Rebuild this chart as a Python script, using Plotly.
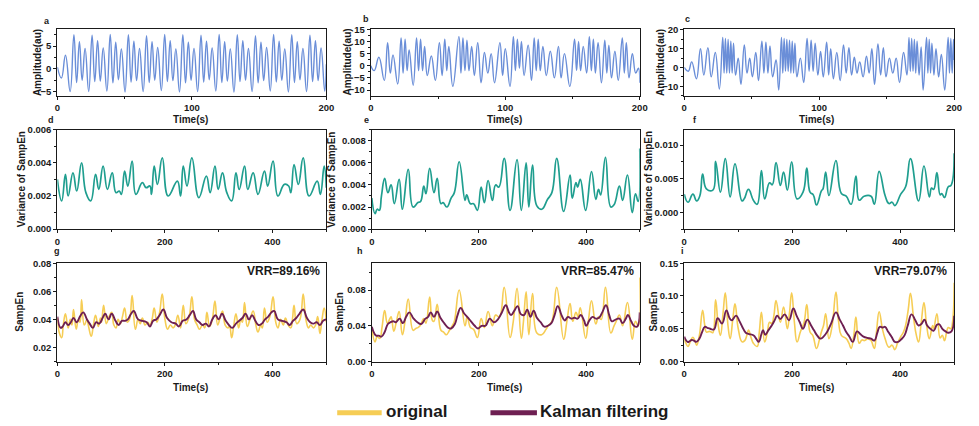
import plotly.graph_objects as go

# ---------------- Row 1: amplitude signals (time in s) ----------------
a_t = [0, 3, 6, 9.5,
       12.3, 14.3, 16.4, 18.4, 20.6, 23.3, 25.8, 27.8, 29.9, 31.9, 34.1, 36.8,
       39.3, 41.3, 43.4, 45.4, 47.6, 50.3, 52.8, 54.8, 56.9, 58.9, 61.1, 63.8,
       66.3, 68.3, 70.4, 72.4, 74.6, 77.3, 79.8, 81.8, 83.9, 85.9, 88.1, 90.8,
       93.3, 95.3, 97.4, 99.4, 101.6, 104.3, 106.8, 108.8, 110.9, 112.9, 115.1, 117.8,
       120.3, 122.3, 124.4, 126.4, 128.6, 131.3, 133.8, 135.8, 137.9, 139.9, 142.1, 144.8,
       147.3, 149.3, 151.4, 153.4, 155.6, 158.3, 160.8, 162.8, 164.9, 166.9, 169.1, 171.8,
       174.3, 176.3, 178.4, 180.4, 182.6, 185.3, 187.8, 189.8, 191.9, 193.9, 196.1, 198.8,
       200]
a_v = [0.4, -2, 3, -5,
       7.5, -3.0, 6.0, -2.5, 4.5, -5.0, 7.4, -2.8, 6.2, -2.7, 4.6, -4.9,
       7.6, -3.1, 5.9, -2.4, 4.4, -5.1, 7.5, -2.9, 6.1, -2.6, 4.5, -5.0,
       7.3, -3.0, 6.0, -2.5, 4.7, -4.8, 7.6, -2.8, 6.2, -2.6, 4.4, -5.1,
       7.5, -3.1, 5.9, -2.5, 4.5, -5.0, 7.4, -2.9, 6.1, -2.4, 4.6, -4.9,
       7.6, -3.0, 6.0, -2.7, 4.4, -5.1, 7.5, -2.8, 6.2, -2.5, 4.5, -5.0,
       7.3, -3.1, 5.9, -2.6, 4.7, -4.9, 7.6, -2.9, 6.1, -2.5, 4.4, -5.1,
       7.5, -3.0, 6.0, -2.4, 4.5, -5.0, 7.4, -2.8, 6.2, -2.6, 4.6, -4.9,
       1.0]

b_t = [0, 2.5, 6, 10, 12.5, 14.5, 16.5, 20, 22.5, 24, 25.5, 27, 28.5, 31.5, 34, 35.5,
       37, 38.5, 40, 42, 45, 48, 51, 53, 55, 56.5, 58, 61, 65.5, 67, 68.5, 70,
       71.5, 73, 75, 77, 79.5, 82, 84.5, 87, 89.5, 92, 96, 98, 100, 103.5, 106, 107.5,
       109, 110.5, 112, 114, 117, 119.5, 121.5, 123, 124.5, 126, 128, 130.5, 133.5, 136.5,
       139.5, 141.5, 144, 148, 151.5, 153, 154.5, 156, 158, 160.5, 162.5, 164, 165.5, 167,
       169, 171.5, 174, 175.5, 177, 179, 181.5, 184, 187, 188.5, 190, 192, 194.5, 197,
       199, 200]
b_v = [0, -2, 3.5, -6, 9.5, -3, 4.5, -7.5, 11.5, -3, 11, -2, 6.5, -8, 11.5, -2,
       11, -2, 8, -4, 4, -6, 9.5, -4, 11, -2, 8, -8.5, 12, -3, 11.5, -2,
       10.5, -2, 8, -4, 9.5, -7, 5.5, -3, 5, -7, 9.5, -4, 7, -8.5, 12, -2,
       11, -1, 10, -4, 8.5, -6, 11.5, -2, 11, -2, 8, -4, 6, -5,
       8, -5, 5, -8.5, 11, -2, 10, -2, 8, -3, 12, -2, 11, -3,
       9.5, -7, 10.5, -3, 8.5, -5, 6, -6, 11.5, -3, 9.5, -5, 5, -3,
       -1, -7]

c_t = [0, 3, 5.5, 9, 12, 14.5, 17.5, 20, 23, 26, 28.5, 29.5, 30.5, 31.5, 32.5, 33.5,
       34.5, 35.5, 36.5, 38, 40, 42, 44.5, 46.5, 48.5, 50.5, 53, 55, 57.5, 59, 60.5, 62,
       63.5, 65.5, 68, 70, 72, 73, 74, 75, 76, 77, 78, 79, 80, 81, 82, 83.5,
       86, 88.5, 91, 92.5, 94, 95.5, 97, 99, 101, 103, 105.5, 107, 108.5, 110.5,
       113, 115.5, 118, 120, 122, 124, 126, 128, 130, 132.5, 135, 137, 139, 141,
       143.5, 145.5, 147.5, 149.5, 152, 154.5, 157, 159.5, 162.5, 165, 166.5, 167.5, 168.5, 169.5,
       170.5, 171.5, 172.5, 174, 175.5, 177, 179.5, 180.5, 181.5, 182.5, 183.5, 185, 186.5, 188.5,
       190.5, 193, 195.5, 196.5, 197.5, 198.5, 199.5, 200]
c_v = [0, -2, 3, -6, 10, -4, 10.5, -5, 8, -11.5, 16, -3, 15.5, -3, 15, -3,
       14, -3, 13, -4, 5, -9, 12, -3, 5, -5, 8, -7, 14, -3, 13.5, -3,
       11.5, -5, 4, -12, 16, -3, 15.5, -2, 15, -2, 14.5, -3, 14, -3, 13, -5,
       5, -8, 15.5, -2, 14.5, -2, 13, -4, 8.5, -5, 13.5, -4, 10, -6,
       8, -7, 12, -3, 10.5, -4, 5.5, -3, 3, -5, 6, -3, 10, -9,
       12.5, -4, 10.5, -5, 5, -3, 5, -8, 8, -4, 16, -2, 15.5, -2,
       15, -3, 14, -4, 11, -12, 16, -3, 15, -3, 13, -4, 10, -5,
       7, -12, 16, -3, 15.5, -3, 15, 4]

# ---------------- Row 2: variance of SampEn ----------------
d_t = [0, 8, 15, 20, 29, 36, 45, 53, 62, 71, 77, 85, 93, 102, 109, 115, 119, 125, 131, 139,
       146, 158, 165, 172, 175, 180, 186, 195, 206, 223, 229, 234, 241, 250, 263, 277, 284,
       293, 299, 307, 315, 324, 332, 338, 348, 354, 364, 373, 385, 391, 401, 410, 422, 430,
       434, 440, 448, 457, 468, 483, 489, 496, 500]
d_v = [0.0030, 0.0017, 0.0033, 0.0020, 0.0034, 0.0023, 0.0040, 0.0022, 0.0017, 0.0033,
       0.0024, 0.0038, 0.0024, 0.0034, 0.0022, 0.0023, 0.0021, 0.0035, 0.0026, 0.0041,
       0.0021, 0.0028, 0.0025, 0.0026, 0.0021, 0.0038, 0.0027, 0.0043, 0.0020, 0.0029,
       0.0020, 0.0038, 0.0026, 0.0043, 0.0019, 0.0032, 0.0022, 0.0038, 0.0024, 0.0034,
       0.0022, 0.0017, 0.0034, 0.0024, 0.0038, 0.0024, 0.0034, 0.0021, 0.0035, 0.0026,
       0.0041, 0.0020, 0.0027, 0.0026, 0.0022, 0.0039, 0.0027, 0.0043, 0.0020, 0.0029,
       0.0021, 0.0038, 0.0025]

e_t = [0, 6, 10, 14, 18, 24, 30, 36, 42, 51, 57, 68, 77, 86, 91, 97, 101, 108, 116, 122,
       129, 133, 140, 148, 154, 163, 174, 177, 184, 190, 197, 204, 210, 217, 225, 231, 237,
       247, 258, 271, 279, 288, 293, 300, 308, 317, 328, 336, 345, 358, 370, 374, 381, 384,
       389, 399, 410, 418, 423, 427, 436, 446, 452, 462, 468, 477, 486, 492, 497, 500]
e_v = [0.0028, 0.0014, 0.0018, 0.0017, 0.0030, 0.0046, 0.0033, 0.0040, 0.0023, 0.0045,
       0.0018, 0.0054, 0.0020, 0.0024, 0.0025, 0.0039, 0.0032, 0.0055, 0.0033, 0.0046,
       0.0023, 0.0024, 0.0020, 0.0028, 0.0033, 0.0061, 0.0026, 0.0031, 0.0023, 0.0023,
       0.0017, 0.0038, 0.0024, 0.0044, 0.0026, 0.0040, 0.0038, 0.0064, 0.0017, 0.0063,
       0.0017, 0.0060, 0.0020, 0.0058, 0.0021, 0.0018, 0.0027, 0.0033, 0.0064, 0.0016,
       0.0049, 0.0028, 0.0042, 0.0038, 0.0045, 0.0017, 0.0052, 0.0027, 0.0036, 0.0031,
       0.0065, 0.0020, 0.0022, 0.0039, 0.0026, 0.0049, 0.0015, 0.0032, 0.0025, 0.0073]

f_t = [0, 7, 16, 23, 29, 34, 41, 53, 58, 67, 76, 85, 94, 107, 111, 119, 128, 135, 143, 149,
       158, 163, 170, 178, 184, 191, 199, 209, 220, 227, 233, 239, 245, 254, 257, 262, 268,
       281, 291, 300, 309, 318, 324, 333, 346, 352, 361, 372, 379, 385, 390, 401, 410, 419,
       434, 444, 454, 458, 462, 468, 474, 477, 482, 489, 494, 500]
f_v = [0.0027, 0.0015, 0.0027, 0.0017, 0.0025, 0.0057, 0.0035, 0.0033, 0.0076, 0.0030,
       0.0080, 0.0023, 0.0072, 0.0017, 0.0020, 0.0034, 0.0018, 0.0012, 0.0062, 0.0020,
       0.0044, 0.0041, 0.0074, 0.0040, 0.0060, 0.0033, 0.0075, 0.0020, 0.0030, 0.0066,
       0.0030, 0.0026, 0.0011, 0.0032, 0.0035, 0.0060, 0.0025, 0.0077, 0.0028, 0.0024,
       0.0012, 0.0054, 0.0018, 0.0024, 0.0024, 0.0012, 0.0061, 0.0025, 0.0013, 0.0015,
       0.0010, 0.0027, 0.0038, 0.0080, 0.0017, 0.0069, 0.0023, 0.0036, 0.0034, 0.0059,
       0.0026, 0.0028, 0.0022, 0.0038, 0.0040, 0.0088]

# ---------------- Row 3: SampEn, original vs Kalman filtering ----------------
g_orig_t = [0, 4, 8, 11, 15, 20, 24, 27, 30, 35, 39, 42, 45, 50, 55, 58, 63, 67, 71, 76,
            80, 82, 86, 91, 96, 101, 105, 109, 113, 117, 121, 125, 130, 134, 139, 145, 150,
            154, 158, 163, 168, 172, 176, 180, 185, 190, 195, 200, 205, 210, 215, 219, 224,
            229, 234, 239, 245, 250, 255, 260, 264, 270, 274, 278, 283, 288, 293, 298, 303,
            307, 312, 317, 320, 324, 328, 332, 337, 341, 344, 348, 353, 358, 364, 369, 373,
            378, 381, 385, 390, 395, 401, 406, 410, 415, 420, 424, 429, 434, 437, 440, 445,
            451, 457, 462, 467, 471, 476, 480, 484, 488, 492, 496, 500]
g_orig_v = [0.041, 0.030, 0.027, 0.036, 0.044, 0.034, 0.040, 0.036, 0.047, 0.033, 0.040,
            0.038, 0.054, 0.036, 0.040, 0.035, 0.028, 0.036, 0.043, 0.035, 0.041, 0.038,
            0.050, 0.037, 0.042, 0.045, 0.036, 0.034, 0.040, 0.037, 0.042, 0.048, 0.038,
            0.040, 0.057, 0.033, 0.040, 0.037, 0.041, 0.036, 0.038, 0.036, 0.040, 0.048,
            0.038, 0.045, 0.058, 0.040, 0.033, 0.036, 0.034, 0.036, 0.043, 0.034, 0.050,
            0.037, 0.042, 0.056, 0.040, 0.036, 0.033, 0.036, 0.034, 0.045, 0.035, 0.040,
            0.053, 0.036, 0.042, 0.046, 0.036, 0.034, 0.035, 0.027, 0.036, 0.044, 0.034,
            0.040, 0.038, 0.052, 0.035, 0.040, 0.046, 0.036, 0.031, 0.036, 0.034, 0.048,
            0.038, 0.042, 0.056, 0.038, 0.034, 0.040, 0.036, 0.041, 0.036, 0.034, 0.040,
            0.050, 0.037, 0.040, 0.058, 0.040, 0.034, 0.036, 0.034, 0.036, 0.042, 0.030,
            0.040, 0.048, 0.038]
g_kal_t = [0, 6, 10, 15, 20, 25, 30, 36, 42, 48, 55, 60, 66, 72, 78, 84, 89, 95, 101, 108,
           114, 120, 126, 131, 137, 142, 150, 158, 166, 172, 178, 184, 190, 197, 204, 212,
           220, 226, 233, 240, 246, 252, 258, 264, 270, 276, 282, 288, 294, 300, 306, 313,
           319, 325, 332, 338, 344, 350, 356, 362, 368, 374, 380, 386, 392, 398, 403, 410,
           418, 426, 432, 438, 444, 450, 457, 464, 470, 476, 482, 488, 494, 500]
g_kal_v = [0.042, 0.034, 0.035, 0.038, 0.036, 0.038, 0.041, 0.038, 0.042, 0.045, 0.040,
           0.037, 0.034, 0.038, 0.037, 0.041, 0.044, 0.040, 0.044, 0.039, 0.036, 0.039,
           0.039, 0.040, 0.044, 0.046, 0.040, 0.039, 0.038, 0.035, 0.039, 0.040, 0.043,
           0.047, 0.041, 0.038, 0.037, 0.035, 0.039, 0.040, 0.043, 0.046, 0.040, 0.038,
           0.036, 0.037, 0.035, 0.040, 0.043, 0.040, 0.044, 0.039, 0.036, 0.034, 0.037,
           0.039, 0.041, 0.044, 0.040, 0.043, 0.039, 0.036, 0.037, 0.040, 0.042, 0.045,
           0.046, 0.040, 0.039, 0.038, 0.036, 0.039, 0.041, 0.044, 0.047, 0.041, 0.038,
           0.037, 0.038, 0.036, 0.039, 0.040]

h_orig_t = [0, 6, 10, 15, 19, 24, 29, 33, 36, 41, 46, 51, 57, 62, 68, 77, 82, 86, 90, 97,
            101, 108, 113, 116, 122, 129, 134, 139, 145, 150, 154, 163, 174, 178, 184, 190,
            197, 204, 210, 217, 225, 231, 238, 247, 258, 264, 271, 279, 283, 288, 293, 300,
            308, 317, 325, 329, 336, 345, 358, 364, 370, 375, 381, 385, 389, 399, 404, 410,
            418, 423, 428, 436, 446, 452, 456, 462, 468, 477, 486, 492, 497, 500]
h_orig_v = [0.038, 0.022, 0.028, 0.026, 0.038, 0.057, 0.043, 0.047, 0.050, 0.034, 0.045,
            0.056, 0.030, 0.045, 0.070, 0.035, 0.037, 0.038, 0.040, 0.048, 0.043, 0.072,
            0.046, 0.045, 0.064, 0.035, 0.033, 0.030, 0.035, 0.040, 0.045, 0.080, 0.040,
            0.050, 0.038, 0.036, 0.027, 0.048, 0.038, 0.056, 0.040, 0.052, 0.050, 0.083,
            0.027, 0.045, 0.082, 0.026, 0.045, 0.078, 0.030, 0.076, 0.032, 0.030, 0.036,
            0.040, 0.045, 0.083, 0.025, 0.045, 0.065, 0.045, 0.055, 0.050, 0.060, 0.026,
            0.045, 0.068, 0.042, 0.050, 0.047, 0.083, 0.032, 0.040, 0.045, 0.052, 0.040,
            0.066, 0.025, 0.045, 0.040, 0.094]
h_kal_t = [0, 5, 8, 13, 18, 24, 30, 35, 40, 45, 52, 58, 64, 70, 78, 85, 92, 100, 105, 110,
           116, 122, 128, 135, 142, 148, 155, 160, 166, 172, 178, 185, 192, 198, 205, 212,
           216, 220, 228, 235, 242, 250, 256, 260, 266, 272, 278, 284, 290, 296, 302, 308,
           315, 322, 328, 335, 341, 347, 354, 360, 366, 372, 378, 384, 390, 396, 400, 406,
           412, 418, 424, 430, 437, 443, 448, 455, 462, 468, 474, 478, 484, 489, 495, 500]
h_kal_v = [0.039, 0.031, 0.029, 0.029, 0.028, 0.033, 0.042, 0.044, 0.045, 0.044, 0.048,
           0.043, 0.050, 0.055, 0.048, 0.044, 0.042, 0.048, 0.050, 0.055, 0.050, 0.056,
           0.049, 0.043, 0.038, 0.037, 0.042, 0.052, 0.060, 0.054, 0.050, 0.045, 0.040,
           0.037, 0.040, 0.040, 0.044, 0.048, 0.044, 0.047, 0.054, 0.063, 0.055, 0.052,
           0.057, 0.062, 0.053, 0.052, 0.058, 0.050, 0.057, 0.049, 0.044, 0.039, 0.040,
           0.043, 0.052, 0.062, 0.052, 0.046, 0.050, 0.048, 0.049, 0.048, 0.052, 0.046,
           0.040, 0.046, 0.050, 0.048, 0.049, 0.055, 0.063, 0.052, 0.045, 0.047, 0.048,
           0.043, 0.048, 0.052, 0.045, 0.040, 0.039, 0.055]

i_orig_t = [0, 3, 7, 11, 16, 20, 23, 28, 34, 38, 41, 47, 50, 53, 58, 63, 67, 72, 76, 81,
            85, 90, 94, 100, 107, 112, 116, 119, 124, 128, 135, 139, 143, 149, 154, 158, 162,
            166, 170, 178, 184, 191, 195, 199, 204, 209, 215, 222, 227, 233, 238, 245, 250,
            254, 258, 262, 268, 274, 281, 286, 291, 300, 305, 309, 314, 318, 324, 329, 334,
            340, 346, 352, 356, 361, 367, 372, 379, 385, 390, 395, 401, 406, 410, 415, 419,
            425, 430, 434, 439, 444, 449, 454, 460, 462, 468, 474, 478, 482, 486, 489, 494,
            497, 500]
i_orig_v = [0.034, 0.028, 0.023, 0.030, 0.037, 0.031, 0.025, 0.040, 0.078, 0.055, 0.045,
            0.046, 0.045, 0.044, 0.094, 0.055, 0.040, 0.075, 0.105, 0.055, 0.035, 0.065,
            0.088, 0.050, 0.030, 0.032, 0.040, 0.048, 0.036, 0.028, 0.023, 0.045, 0.075,
            0.030, 0.045, 0.060, 0.058, 0.070, 0.093, 0.060, 0.083, 0.050, 0.075, 0.105,
            0.060, 0.030, 0.045, 0.060, 0.087, 0.045, 0.040, 0.020, 0.032, 0.045, 0.055,
            0.073, 0.035, 0.055, 0.106, 0.060, 0.040, 0.035, 0.028, 0.020, 0.040, 0.068,
            0.028, 0.033, 0.032, 0.035, 0.032, 0.020, 0.045, 0.076, 0.050, 0.035, 0.022,
            0.025, 0.018, 0.028, 0.038, 0.045, 0.055, 0.080, 0.104, 0.065, 0.040, 0.030,
            0.060, 0.090, 0.055, 0.035, 0.055, 0.050, 0.073, 0.036, 0.040, 0.032, 0.045,
            0.052, 0.050, 0.060, 0.120]
i_kal_t = [0, 6, 10, 14, 18, 22, 28, 33, 38, 44, 48, 55, 62, 70, 78, 84, 88, 96, 102, 108,
           114, 120, 128, 134, 138, 143, 146, 150, 156, 162, 168, 172, 178, 186, 194, 202,
           208, 214, 220, 228, 235, 240, 246, 252, 258, 265, 272, 281, 288, 294, 300, 306,
           312, 320, 326, 332, 340, 346, 352, 358, 362, 368, 372, 378, 384, 390, 396, 402,
           408, 414, 421, 428, 434, 440, 445, 450, 456, 462, 468, 472, 478, 484, 489, 495, 500]
i_kal_v = [0.038, 0.030, 0.031, 0.033, 0.032, 0.030, 0.035, 0.045, 0.053, 0.051, 0.050,
           0.049, 0.066, 0.058, 0.078, 0.066, 0.063, 0.070, 0.062, 0.052, 0.044, 0.042,
           0.040, 0.034, 0.030, 0.042, 0.048, 0.041, 0.048, 0.055, 0.064, 0.070, 0.065,
           0.072, 0.063, 0.081, 0.070, 0.060, 0.050, 0.064, 0.055, 0.048, 0.040, 0.035,
           0.038, 0.046, 0.058, 0.075, 0.064, 0.055, 0.045, 0.038, 0.030, 0.046, 0.042,
           0.038, 0.036, 0.035, 0.032, 0.045, 0.053, 0.052, 0.053, 0.045, 0.038, 0.030,
           0.030, 0.034, 0.040, 0.055, 0.072, 0.063, 0.055, 0.058, 0.064, 0.055, 0.050,
           0.047, 0.056, 0.057, 0.050, 0.046, 0.044, 0.046, 0.070]

vrr_labels = ["VRR=89.16%", "VRR=85.47%", "VRR=79.07%"]
panel_letters = ["a", "b", "c", "d", "e", "f", "g", "h", "i"]

BLUE = "#6a8ed8"
TEAL = "#1f9e8f"
YELLOW = "#f6cd55"
PURPLE = "#6e1f52"
INK = "#1a1a1a"
FONT = "Liberation Sans, Arial, sans-serif"

W, H = 979, 426


def px(x):
    return x / W


def py(y):
    return 1 - y / H


# plot-area boxes in pixels: (left, right) per column, (top, bottom) per row
cols = [[(55, 327), (372, 644), (689, 962)],
        [(55, 327), (373, 644), (689, 962)],
        [(55, 327), (373, 644), (689, 962)]]
rows = [(24, 92), (127, 229), (264, 365)]

fig = go.Figure()


def add_line(idx, x, y, color, width):
    sfx = "" if idx == 1 else str(idx)
    fig.add_trace(go.Scatter(x=x, y=y, mode="lines", xaxis="x" + sfx, yaxis="y" + sfx,
                             line=dict(color=color, width=width, shape="spline", smoothing=1.3),
                             showlegend=False, hoverinfo="skip"))


add_line(1, a_t, a_v, BLUE, 1.4)
add_line(2, b_t, b_v, BLUE, 1.4)
add_line(3, c_t, c_v, BLUE, 1.4)
add_line(4, d_t, d_v, TEAL, 1.7)
add_line(5, e_t, e_v, TEAL, 1.7)
add_line(6, f_t, f_v, TEAL, 1.7)
add_line(7, g_orig_t, g_orig_v, YELLOW, 1.6)
add_line(7, g_kal_t, g_kal_v, PURPLE, 1.9)
add_line(8, h_orig_t, h_orig_v, YELLOW, 1.6)
add_line(8, h_kal_t, h_kal_v, PURPLE, 1.9)
add_line(9, i_orig_t, i_orig_v, YELLOW, 1.6)
add_line(9, i_kal_t, i_kal_v, PURPLE, 1.9)

tickfont = dict(family=FONT, size=9.5, color=INK, weight="bold")
axis_common = dict(showline=True, mirror=True, linecolor=INK, linewidth=1.2,
                   ticks="outside", ticklen=3, tickwidth=1, tickcolor=INK,
                   showgrid=False, zeroline=False, tickfont=tickfont)

yspecs = [
    dict(range=[-5.9, 8.7], tick0=0, dtick=5, minor=dict(dtick=2.5)),
    dict(range=[-12.3, 15], tick0=0, dtick=5, minor=dict(dtick=2.5)),
    dict(range=[-15, 20.3], tick0=0, dtick=10, minor=dict(dtick=5)),
    dict(range=[0, 0.006], tick0=0, dtick=0.002, tickformat=".3f", minor=dict(dtick=0.001)),
    dict(range=[0, 0.009], tick0=0, dtick=0.002, tickformat=".3f", minor=dict(dtick=0.001)),
    dict(range=[-0.0025, 0.0123], tick0=0, dtick=0.005, tickformat=".3f", minor=dict(dtick=0.0025)),
    dict(range=[0.01, 0.08], tick0=0, dtick=0.02, tickformat=".2f", minor=dict(dtick=0.01)),
    dict(range=[0, 0.11], tick0=0, dtick=0.04, tickformat=".2f", minor=dict(dtick=0.02)),
    dict(range=[0, 0.15], tick0=0, dtick=0.05, tickformat=".2f", minor=dict(dtick=0.025)),
]

layout = dict(width=W, height=H, margin=dict(l=0, r=0, t=0, b=0),
              paper_bgcolor="white", plot_bgcolor="white", showlegend=False)

for r in range(3):
    for c in range(3):
        idx = r * 3 + c + 1
        sfx = "" if idx == 1 else str(idx)
        l, rr = cols[r][c]
        t, b = rows[r]
        if r == 0:
            xs = dict(range=[0, 200], tick0=0, dtick=100, minor=dict(dtick=50))
        else:
            xs = dict(range=[0, 500], tick0=0, dtick=200, minor=dict(dtick=100))
        minor_style = dict(ticks="outside", ticklen=2, tickcolor=INK, tickwidth=1)
        xa = dict(axis_common, domain=[px(l), px(rr)], anchor="y" + sfx, **xs)
        xa["minor"] = dict(xa["minor"], **minor_style)
        ya = dict(axis_common, domain=[py(b), py(t)], anchor="x" + sfx, **yspecs[idx - 1])
        ya["minor"] = dict(ya["minor"], **minor_style)
        layout["xaxis" + sfx] = xa
        layout["yaxis" + sfx] = ya

fig.update_layout(**layout)

ann = []


def text(x, y, s, size, angle=0, xanchor="center", yanchor="middle"):
    ann.append(dict(x=px(x), y=py(y), xref="paper", yref="paper", text=s, showarrow=False,
                    textangle=angle, xanchor=xanchor, yanchor=yanchor,
                    font=dict(family=FONT, size=size, color=INK, weight="bold")))


# panel letters
for s, (x, y) in zip(panel_letters, [(44, 15), (367, 13), (692, 13),
                                      (49, 117), (368, 117), (700, 117),
                                      (55, 252), (361, 252), (687, 251)]):
    text(x, y, s, 9)

# y-axis titles
for x in (35, 348, 665):
    text(x, 58, "Amplitude(au)", 10, angle=-90)
for x in (19, 332, 653):
    text(x, 178, "Variance of SampEn", 10, angle=-90)
for x in (17, 341, 658):
    text(x, 314, "SampEn", 10, angle=-90)

# x-axis titles
for x in (190, 507, 823):
    text(x, 117, "Time(s)", 10)
for x in (190, 507, 823):
    text(x, 392, "Time(s)", 10)

# variance-reduction ratio labels
for s, x in zip(vrr_labels, (323, 640, 957)):
    text(x, 272, s, 12, xanchor="right")

# legend
shapes = [
    dict(type="line", xref="paper", yref="paper", x0=px(338), x1=px(383), y0=py(417.5), y1=py(417.5),
         line=dict(color=YELLOW, width=5)),
    dict(type="line", xref="paper", yref="paper", x0=px(493), x1=px(540), y0=py(417.5), y1=py(417.5),
         line=dict(color=PURPLE, width=5)),
]
text(385, 416, "original", 17, xanchor="left")
text(541, 416, "Kalman filtering", 17, xanchor="left")

fig.update_layout(annotations=ann, shapes=shapes)
fig.write_html("out.html")
